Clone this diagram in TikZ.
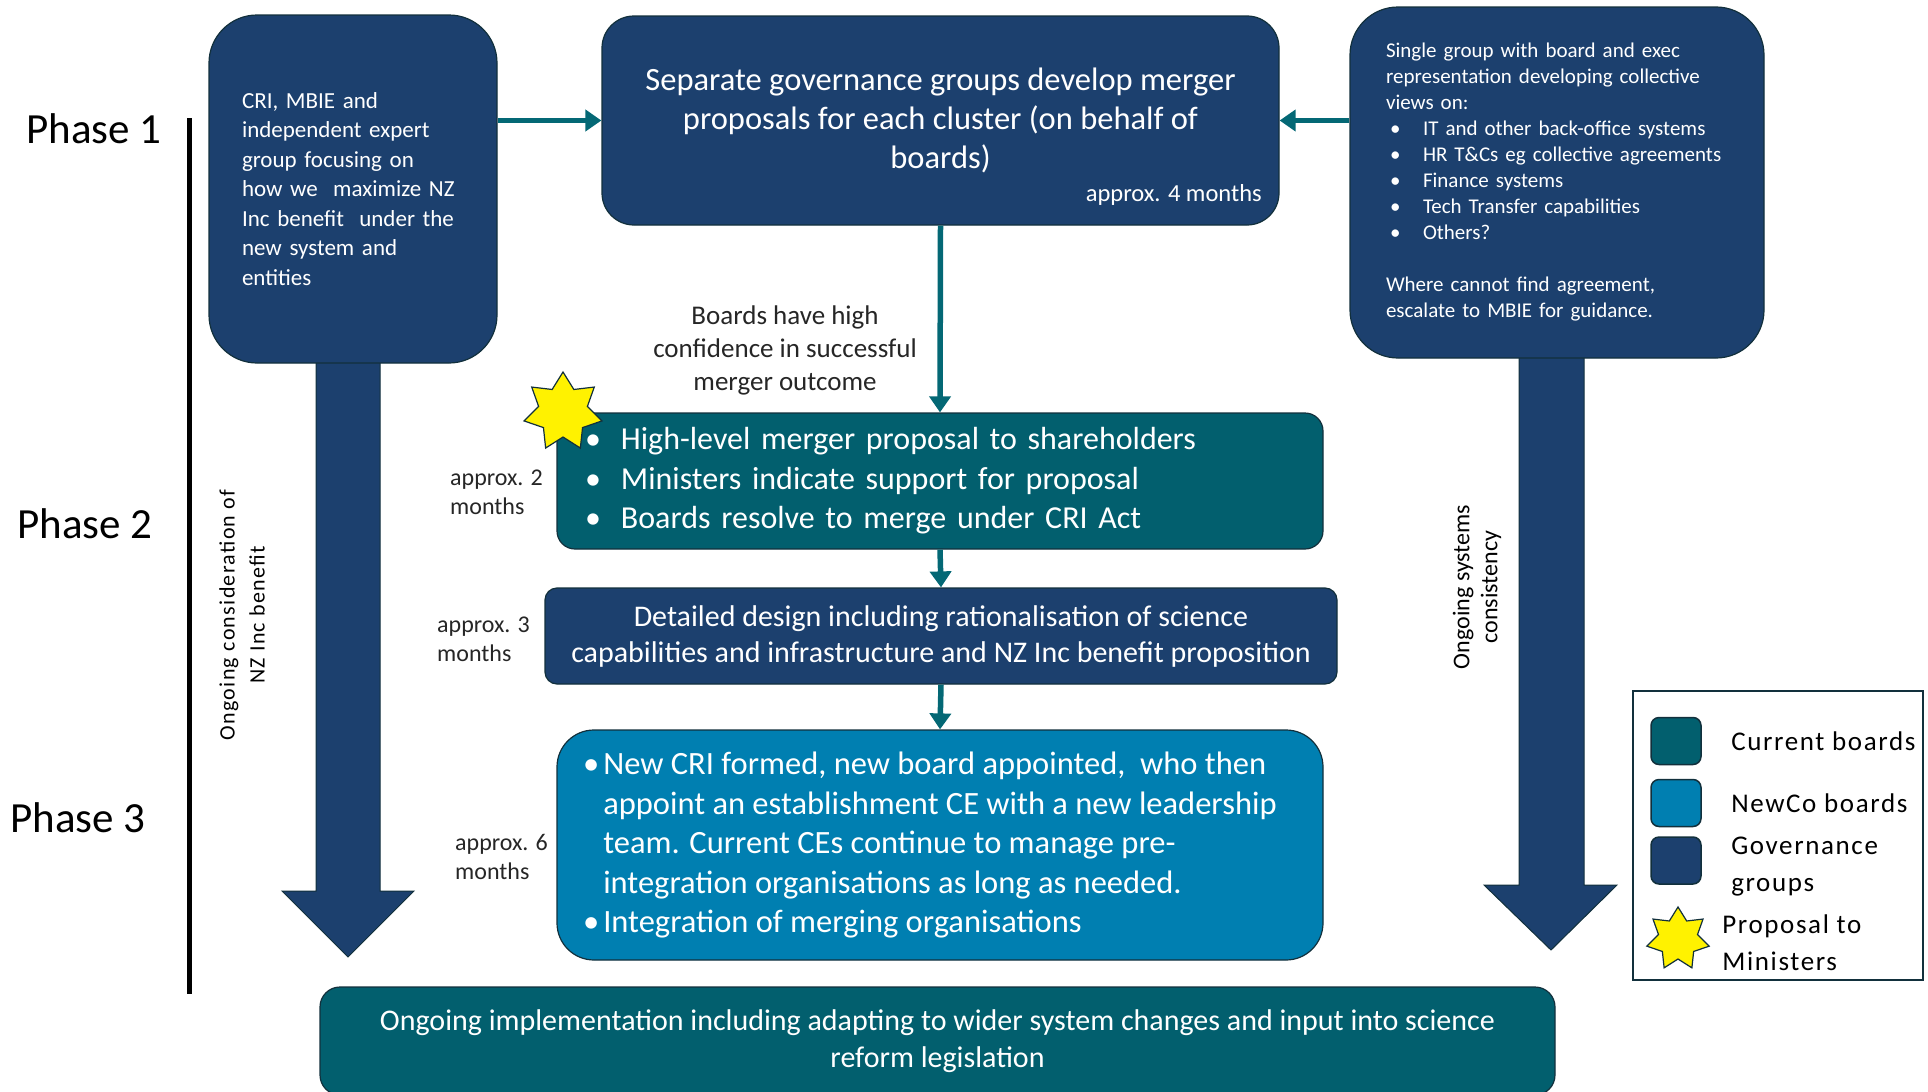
\documentclass[tikz,border=0pt]{standalone}
\usepackage{fontspec}
\setmainfont{Carlito}
\newfontfamily\widefont[LetterSpace=6]{Carlito}
\usepackage{tikz}
\usetikzlibrary{
  shapes.geometric,
  arrows.meta,
  positioning
}
\definecolor{govblue}{RGB}{28,64,110}
\definecolor{curteal}{RGB}{2,95,110}
\definecolor{newblue}{RGB}{0,127,177}
\definecolor{linkteal}{RGB}{4,104,117}
\definecolor{edgedark}{RGB}{18,48,60}
\definecolor{notegrey}{RGB}{38,38,38}
\newcommand{\fs}[2]{\fontsize{#1}{#2}\selectfont}
\newcommand{\dotin}[1]{\leavevmode\llap{\textbullet\hspace{#1pt}}}

\begin{document}
\begin{tikzpicture}[x=1pt,y=-1pt,
  every node/.style={inner sep=0pt},
  box/.style={draw=edgedark, line width=1.2pt, text=white},
  govbox/.style={box, fill=govblue},
  curbox/.style={box, fill=curteal},
  newbox/.style={box, fill=newblue},
  link/.style={draw=linkteal, line width=5.5pt, -{Triangle[length=16pt,width=21pt]}},
  bigarrow/.style={fill=govblue, draw=edgedark, line width=1pt},
  phase/.style={font=\fs{43}{50}, text=black},
  note/.style={font=\fs{24}{29}, text=notegrey, align=left, anchor=west},
  swatch/.style={draw=edgedark, line width=1.5pt, rounded corners=8pt,
                 minimum width=50pt, minimum height=47pt},
  propstar/.style={star, star points=7, star point ratio=1.6, fill=yellow,
                   draw=edgedark, line width=1.2pt}
]
\useasboundingbox (0,0) rectangle (1928,1092);

% phase labels and timeline bar
\node[phase] (ph1) at (94,129) {Phase 1};
\node[phase] (ph2) at (85,524) {Phase 2};
\node[phase] (ph3) at (78,818) {Phase 3};
\draw[line width=5pt] (189,118) -- (189,994);

% broad side arrows
\coordinate (ltip) at (348,957);
\coordinate (rtip) at (1551,950);
\draw[bigarrow] (316,340) -- (316,891) -- (282,891) -- (ltip)
  -- (414,891) -- (380,891) -- (380,340) -- cycle;
\draw[bigarrow] (1519,340) -- (1519,885) -- (1484,885) -- (rtip)
  -- (1617,885) -- (1584,885) -- (1584,340) -- cycle;
\node[rotate=90, font=\widefont\fs{22}{30}, text=black, align=center] (ltext)
  at (242,615) {Ongoing consideration of\\NZ Inc benefit};
\node[rotate=90, font=\fs{24}{28}, text=black, align=center] (rtext)
  at (1477,587) {Ongoing systems\\consistency};

% phase 1 boxes
\node[govbox, rounded corners=48pt, minimum width=288pt, minimum height=348pt,
      font=\fs{23}{29.5}, text width=222pt, align=left] (gov1) at (353,189)
  {CRI, MBIE and\\independent expert\\group focusing on\\how we\ \ maximize NZ\\
   Inc benefit\ \ under the\\new system and\\entities};
\node[govbox, rounded corners=32pt, minimum width=677pt, minimum height=209pt,
      font=\fs{32.5}{39}, align=center] (gov2) at (940.5,120.5)
  {Separate governance groups develop merger\\proposals for each cluster (on behalf of\\boards)};
\node[font=\fs{24.5}{28}, text=white, anchor=east] (dur4) at (1262,195) {approx. 4 months};
\node[govbox, rounded corners=48pt, minimum width=414pt, minimum height=351pt,
      font=\fs{21}{26}, text width=342pt, align=left] (gov3) at (1557,182.5)
  {Single group with board and exec\\representation developing collective\\views on:\\
   \hspace*{4pt}\makebox[33pt][l]{\textbullet}IT and other back-office systems\\
   \hspace*{4pt}\makebox[33pt][l]{\textbullet}HR T\&Cs eg collective agreements\\
   \hspace*{4pt}\makebox[33pt][l]{\textbullet}Finance systems\\
   \hspace*{4pt}\makebox[33pt][l]{\textbullet}Tech Transfer capabilities\\
   \hspace*{4pt}\makebox[33pt][l]{\textbullet}Others?\\[26pt]
   Where cannot find agreement,\\escalate to MBIE for guidance.};

% phase 2 and 3 boxes
\node[curbox, rounded corners=18pt, minimum width=766pt, minimum height=136pt,
      font=\fs{32}{39.5}, text width=638pt, align=left] (p2box) at (940,481)
  {\dotin{20}High-level merger proposal to shareholders\\
   \dotin{20}Ministers indicate support for proposal\\
   \dotin{20}Boards resolve to merge under CRI Act};
\node[propstar, minimum size=80pt] (pstar) at (563,412) {};
\node[govbox, rounded corners=12pt, minimum width=792pt, minimum height=96pt,
      font=\fs{30}{36}, align=center] (dbox) at (941,636)
  {Detailed design including rationalisation of science\\
   capabilities and infrastructure and NZ Inc benefit proposition};
\node[newbox, rounded corners=37pt, minimum width=766pt, minimum height=230pt,
      font=\fs{32.5}{39.5}, align=left] (nbox) at (940,845)
  {\dotin{4}New CRI formed, new board appointed,\ \ who then\\
   appoint an establishment CE with a new leadership\\
   team. Current CEs continue to manage pre-\\
   integration organisations as long as needed.\\
   \dotin{4}Integration of merging organisations};
\node[curbox, rounded corners=20pt, minimum width=1235pt, minimum height=108pt,
      font=\fs{30}{37}, align=center] (bbox) at (937.5,1041)
  {Ongoing implementation including adapting to wider system changes and input into science\\
   reform legislation};

% durations and condition
\node[note] (dur2) at (450,492) {approx. 2\\months};
\node[note] (dur3) at (437,639) {approx. 3\\months};
\node[note] (dur6) at (455,857) {approx. 6\\months};
\node[font=\fs{27}{33}, text=notegrey, align=center] (conf) at (785,350)
  {Boards have high\\confidence in successful\\merger outcome};

% teal links
\draw[link] (gov1.east |- gov2.west) -- (gov2.west);
\draw[link] (gov3.west |- gov2.east) -- (gov2.east);
\draw[link] (gov2.south) -- (p2box.north);
\draw[link] (p2box.south) -- (dbox.north);
\draw[link] (dbox.south) -- (nbox.north);

% legend
\node[draw=edgedark, line width=1.5pt, fill=white, minimum width=290pt,
      minimum height=289pt] (legend) at (1778,835.5) {};
\node[swatch, fill=curteal] (sw1) at (1676,741) {};
\node[swatch, fill=newblue] (sw2) at (1676,803) {};
\node[swatch, fill=govblue] (sw3) at (1676,860.5) {};
\node[propstar, minimum size=64pt] (sw4) at (1678,939) {};
\begin{scope}[every node/.style={font=\widefont\fs{27}{37}, text=black, align=left}]
  \node[right=26pt of sw1] (lg1) {Current boards};
  \node[right=26pt of sw2] (lg2) {NewCo boards};
  \node[right=26pt of sw3, yshift=-6pt] (lg3) {Governance\\groups};
  \node[right=16pt of sw4, yshift=-4pt] (lg4) {Proposal to\\Ministers};
\end{scope}
\end{tikzpicture}
\end{document}
